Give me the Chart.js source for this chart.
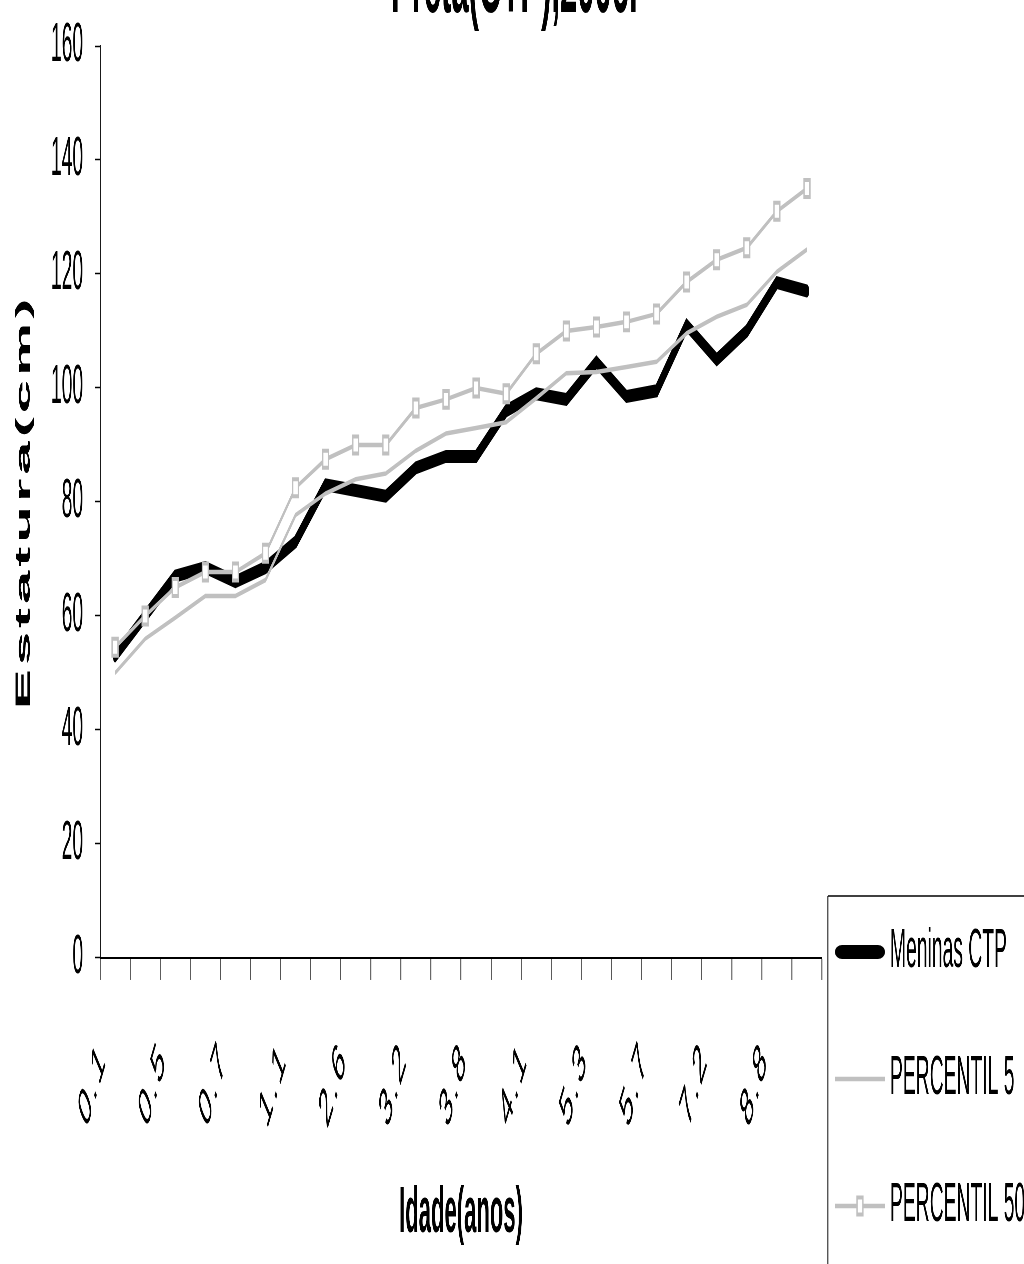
<!DOCTYPE html>
<html><head><meta charset="utf-8">
<script src="https://cdn.jsdelivr.net/npm/chart.js@4.4.1/dist/chart.umd.min.js"></script>
<style>
html,body{margin:0;padding:0;background:#fff;overflow:hidden;width:1024px;height:1264px;}
#wrap{position:absolute;left:0;top:-40px;width:2983px;height:1345px;transform:scaleX(0.3448276);transform-origin:0 0;}
</style></head><body>
<div id="wrap"><canvas id="c" width="2983" height="1345"></canvas></div>
<script>
const K = 2.9;
const FONT = "'Liberation Sans', Arial, sans-serif";

const titleText = 'Preta(CTP),2006.';
const xTitle = 'Idade(anos)';
const yTitle = 'Estatura(cm)';
const seriesNames = ['Meninas CTP', 'PERCENTIL 5', 'PERCENTIL 50'];

// 24 categories; only every second label is printed in the source (others unreadable)
const categories = ['0.1','','0.5','','0.7','','1.1','','2.6','','3.2','','3.8','','4.1','','5.3','','5.7','','7.2','','8.8',''];
const meninasCTP = [53, 60, 67, 68.5, 66, 68.5, 73, 83, 82, 81, 86, 88, 88, 96, 99, 98, 104.5, 98.5, 99.5, 111, 105, 110, 118.5, 117];
const percentil5 = [50, 56, 59.7, 63.5, 63.5, 66.3, 77.7, 81.5, 84, 85, 89, 92, 93, 94, 98.2, 102.6, 102.8, 103.7, 104.6, 109.6, 112.5, 114.6, 120.4, 124.3];
const percentil50 = [54.5, 60, 65, 67.7, 67.7, 71, 82.5, 87.5, 90, 90, 96.5, 98, 100, 99, 106, 110, 110.7, 111.6, 113, 118.6, 122.5, 124.6, 131, 135];
const yTicks = [0, 20, 40, 60, 80, 100, 120, 140, 160];

const GRAY = '#c0c0c0';

function makeSymbol(kind) {
  const c = document.createElement('canvas');
  c.width = 165; c.height = 32;
  const g = c.getContext('2d');
  g.save();
  g.scale(K, 1);
  const w = 145 / K, cy = 16;
  if (kind === 0) {
    g.strokeStyle = '#000'; g.lineWidth = 14; g.lineCap = 'round';
    g.beginPath(); g.moveTo(7, cy); g.lineTo(w - 7, cy); g.stroke();
  } else {
    g.strokeStyle = GRAY; g.lineWidth = 4.5; g.lineCap = 'butt';
    g.beginPath(); g.moveTo(0, cy); g.lineTo(w, cy); g.stroke();
  }
  g.restore();
  if (kind === 2) {
    g.fillStyle = '#fff'; g.strokeStyle = GRAY; g.lineWidth = 4;
    g.fillRect(72.5 - 8.5, cy - 8.5, 17, 17);
    g.strokeRect(72.5 - 8.5, cy - 8.5, 17, 17);
  }
  return c;
}
const symbols = [makeSymbol(0), makeSymbol(1), makeSymbol(2)];

const spacingPlugin = {
  id: 'spacing',
  beforeDraw(chart) {
    const wrap = (scale, method, sp) => {
      if (!scale || scale['_w_' + method]) return;
      const orig = scale[method];
      scale[method] = function(...a) {
        const c = this.ctx;
        c.letterSpacing = sp;
        orig.apply(this, a);
        c.letterSpacing = '0px';
      };
      scale['_w_' + method] = true;
    };
    wrap(chart.scales.x, 'drawLabels', '5px');
    wrap(chart.scales.y, 'drawTitle', '4px');
  }
};

const legendFrame = {
  id: 'legendFrame',
  afterDraw(chart) {
    const lg = chart.legend;
    if (!lg || !lg.columnSizes) return;
    const ctx = chart.ctx;
    const firstY = lg.bottom - lg.columnSizes[0].height;
    const top = firstY - 28;
    const left = lg.left + 17;
    ctx.save();
    ctx.strokeStyle = '#000';
    ctx.lineWidth = 2.9;
    ctx.beginPath(); ctx.moveTo(left, top); ctx.lineTo(left, chart.height + 20); ctx.stroke();
    ctx.lineWidth = 1.5;
    ctx.beginPath(); ctx.moveTo(left, top); ctx.lineTo(chart.width + 20, top); ctx.stroke();
    ctx.restore();
  }
};

const chart = new Chart(document.getElementById('c'), {
  type: 'line',
  data: {
    labels: categories,
    datasets: [
      { label: seriesNames[0], data: meninasCTP, borderColor: '#000', backgroundColor: '#000',
        borderWidth: 13, borderJoinStyle: 'miter', borderCapStyle: 'round', pointRadius: 0, order: 3 },
      { label: seriesNames[1], data: percentil5, borderColor: GRAY, backgroundColor: GRAY,
        borderWidth: 4.5, borderJoinStyle: 'miter', pointRadius: 0, order: 2 },
      { label: seriesNames[2], data: percentil50, borderColor: GRAY, backgroundColor: '#fff',
        borderWidth: 4.5, borderJoinStyle: 'miter', pointStyle: 'rect', pointRadius: 12,
        pointBorderWidth: 4, pointBorderColor: GRAY, pointBackgroundColor: '#fff', order: 1 }
    ]
  },
  options: {
    responsive: false, animation: false, devicePixelRatio: 1,
    layout: { padding: 0 },
    events: [],
    plugins: {
      title: { display: true, text: titleText, fullSize: true, color: '#000',
        font: { family: FONT, size: 90, weight: 'bold' }, padding: { top: -27, bottom: 5 } },
      legend: { position: 'right', align: 'end',
        labels: { usePointStyle: true, pointStyleWidth: 98, padding: 71, color: '#000',
          font: { family: FONT, size: 56 },
          generateLabels: (ch) => ch.data.datasets.map((d, i) => ({
            text: d.label, pointStyle: symbols[i], hidden: false, datasetIndex: i,
            fontColor: '#000', lineWidth: 0, strokeStyle: 'rgba(0,0,0,0)', fillStyle: 'rgba(0,0,0,0)'
          })) } },
      tooltip: { enabled: false }
    },
    scales: {
      x: { type: 'category', offset: true,
        grid: { offset: true, drawOnChartArea: false, drawTicks: true, tickLength: 22, tickWidth: 2.9, tickColor: '#555' },
        border: { display: true, color: '#000', width: 2 },
        ticks: { autoSkip: false, minRotation: 50, maxRotation: 50, padding: 48, labelOffset: -35, color: '#000',
          font: { family: FONT, size: 56 } },
        title: { display: true, text: xTitle, color: '#000', font: { family: FONT, size: 64, weight: 'bold' },
          padding: { top: -2.6, bottom: 52 } } },
      y: { min: 0, max: 160,
        afterBuildTicks: (s) => { s.ticks = yTicks.map(v => ({ value: v })); },
        ticks: { padding: 34.5, color: '#000', font: { family: FONT, size: 56 } },
        grid: { drawOnChartArea: false, drawTicks: true, tickLength: 14.5, tickWidth: 1.5, tickColor: '#000' },
        border: { display: true, color: '#000', width: 2.9 },
        title: { display: true, text: yTitle, color: '#000', font: { family: FONT, size: 60, weight: 'bold' },
          padding: { top: 33.6, bottom: 7.5 } } }
    }
  },
  plugins: [spacingPlugin, legendFrame]
});
chart.draw();
</script>
</body></html>
